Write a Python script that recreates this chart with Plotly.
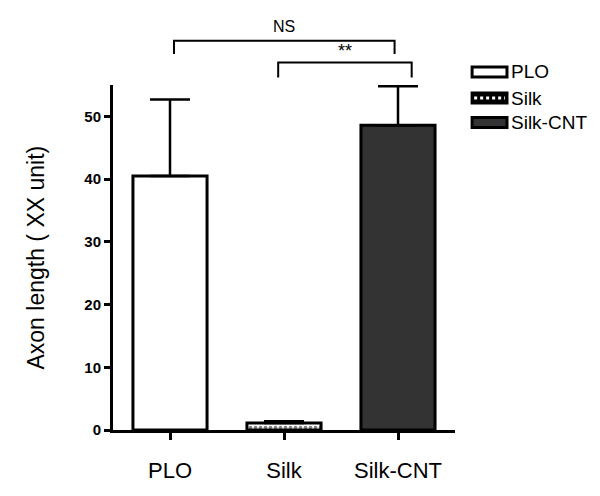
"""Axon length bar chart: PLO / Silk / Silk-CNT with SEM error bars and significance brackets."""
import plotly.graph_objects as go

FONT = "Liberation Sans, Arial, sans-serif"

categories = ["PLO", "Silk", "Silk-CNT"]
means = [40.5, 1.1, 48.6]
errors = [12.2, 0.3, 6.2]
fill_colors = ["white", "white", "#333333"]
y_ticks = [0, 10, 20, 30, 40, 50]

fig = go.Figure()
for cat, m, e, col in zip(categories, means, errors, fill_colors):
    marker = dict(color=col, line=dict(color="black", width=3))
    if cat == "Silk":
        marker["pattern"] = dict(shape=".", fgcolor="black", bgcolor="white",
                                 size=5, solidity=0.4)
    fig.add_trace(go.Bar(
        x=[cat], y=[m], name=cat, width=0.65,
        marker=marker,
        error_y=dict(type="data", array=[e], arrayminus=[0], symmetric=False,
                     color="black", thickness=2.5, width=20),
        cliponaxis=False, showlegend=False,
    ))

# significance brackets (x in category units, y in paper units above the axes)
line = dict(color="black", width=2)
brackets = [
    # x0, x1, y_top, y_bottom, label, label_y
    (0.035, 1.97, 1.128, 1.090, "NS", 1.138),
    (0.949, 2.12, 1.065, 1.022, "**", 1.064),
]
shapes = []
annotations = []
for x0, x1, yt, yb, lab, ly in brackets:
    shapes.append(dict(type="path", xref="x", yref="paper", line=line,
                       path=f"M{x0},{yb} L{x0},{yt} L{x1},{yt} L{x1},{yb}"))
    annotations.append(dict(text=lab, xref="x", yref="paper", x=(x0 + x1) / 2, y=ly,
                            xanchor="center", yanchor="bottom", showarrow=False,
                            font=dict(family=FONT, size=16 if lab == "NS" else 18, color="black")))

# hand-made legend at the right
legend_rows = [("PLO", 1.038), ("Silk", 0.962), ("Silk-CNT", 0.891)]
lx0, lx1, h = 1.050, 1.152, 0.0145
for (lab, yc), col in zip(legend_rows, ["white", "black", "#333333"]):
    shapes.append(dict(type="rect", xref="paper", yref="paper", x0=lx0, x1=lx1,
                       y0=yc - h, y1=yc + h, fillcolor=col,
                       line=dict(color="black", width=3)))
    if lab == "Silk":
        shapes.append(dict(type="line", xref="paper", yref="paper", x0=lx0 + 0.006,
                           x1=lx1 - 0.006, y0=yc, y1=yc,
                           line=dict(color="white", width=3, dash="dot")))
    annotations.append(dict(text=lab, xref="paper", yref="paper", x=1.158, y=yc,
                            xanchor="left", yanchor="middle", showarrow=False,
                            font=dict(family=FONT, size=19, color="black")))

annotations.append(dict(text="Axon length ( XX unit)", xref="paper", yref="paper",
                        x=-0.228, y=0.5, textangle=-90, xanchor="center", yanchor="middle",
                        showarrow=False, font=dict(family=FONT, size=23, color="black")))

# the page adds an 8px body margin, so the figure is 8px smaller and margins shifted
fig.update_layout(
    width=592, height=488,
    margin=dict(l=105, r=145, t=77, b=66),
    paper_bgcolor="white", plot_bgcolor="white",
    barmode="overlay", showlegend=False,
    font=dict(family=FONT, color="black"),
    shapes=shapes, annotations=annotations,
)
fig.update_xaxes(
    range=[-0.5, 2.5], showline=True, linewidth=3, linecolor="black",
    ticks="outside", ticklen=7, tickwidth=2.5, tickcolor="black",
    showgrid=False, ticklabelstandoff=12,
    tickfont=dict(family=FONT, size=22, color="black"),
)
fig.update_yaxes(
    range=[0, 55], tickvals=y_ticks, showline=True, linewidth=3, linecolor="black",
    ticks="outside", ticklen=6, tickwidth=2.5, tickcolor="black",
    showgrid=False, zeroline=False,
    tickfont=dict(family=FONT, size=15, color="black", weight="bold"),
)

fig.write_html("out.html")
